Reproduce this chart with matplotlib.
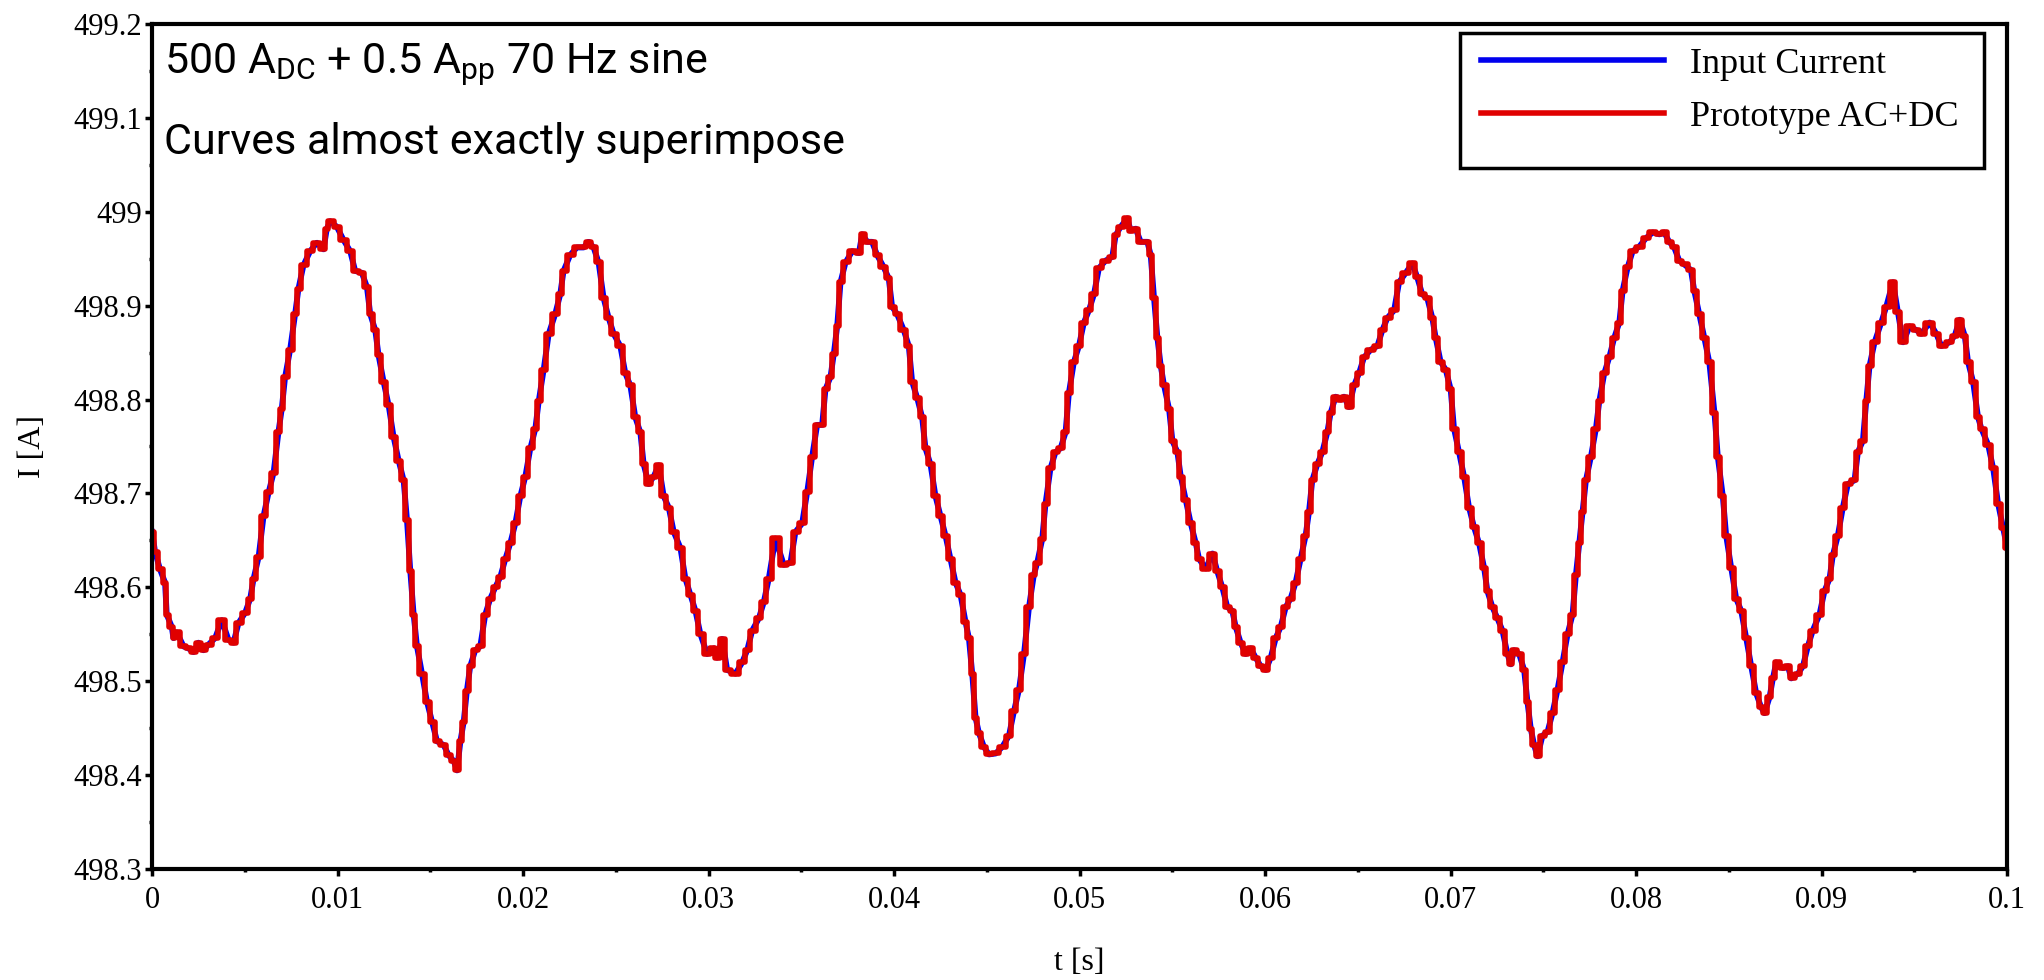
import matplotlib
matplotlib.use("Agg")
import matplotlib.pyplot as plt
from matplotlib.patches import Rectangle
from matplotlib.ticker import MultipleLocator, FuncFormatter

# time [s] and current [A]
t_s = [
    0.0, 0.00016, 0.00043, 0.0007, 0.00079, 0.00106, 0.00115, 0.00133, 0.0017, 0.00196,
    0.00223, 0.0025, 0.00277, 0.00304, 0.0034, 0.00376, 0.00412, 0.00439, 0.00466, 0.00502,
    0.00529, 0.00547, 0.00574, 0.00601, 0.00628, 0.00655, 0.00681, 0.00699, 0.00717, 0.00744,
    0.00771, 0.00789, 0.00816, 0.00852, 0.00888, 0.00924, 0.00942, 0.0096, 0.00996, 0.01032,
    0.01068, 0.01095, 0.01131, 0.01158, 0.01176, 0.01203, 0.01221, 0.01248, 0.01275, 0.01302,
    0.01329, 0.01356, 0.01374, 0.01392, 0.0141, 0.01428, 0.01455, 0.01482, 0.01509, 0.01536,
    0.01572, 0.01599, 0.01626, 0.01644, 0.01662, 0.0168, 0.01697, 0.01715, 0.01742, 0.01769,
    0.01796, 0.01823, 0.0185, 0.01877, 0.01904, 0.01931, 0.01958, 0.01985, 0.02012, 0.02039,
    0.02066, 0.02084, 0.02111, 0.02138, 0.02173, 0.022, 0.02218, 0.02254, 0.0229, 0.02326,
    0.02353, 0.0238, 0.02407, 0.02434, 0.02461, 0.02488, 0.02524, 0.02551, 0.02578, 0.02605,
    0.02632, 0.0265, 0.02677, 0.02704, 0.02731, 0.02758, 0.02785, 0.02812, 0.02848, 0.02875,
    0.02902, 0.02929, 0.02956, 0.02992, 0.03028, 0.03046, 0.03073, 0.031, 0.03145, 0.03181,
    0.03208, 0.03235, 0.03271, 0.03297, 0.03324, 0.0336, 0.03405, 0.03441, 0.03468, 0.03504,
    0.03531, 0.03558, 0.03585, 0.03612, 0.0363, 0.03657, 0.03675, 0.03693, 0.03711, 0.03738,
    0.03774, 0.0381, 0.03828, 0.03855, 0.03881, 0.03908, 0.03944, 0.03971, 0.03989, 0.04016,
    0.04052, 0.04079, 0.04097, 0.04124, 0.04151, 0.04169, 0.04196, 0.04223, 0.0425, 0.04277,
    0.04304, 0.04331, 0.04358, 0.04385, 0.04403, 0.04421, 0.04439, 0.04457, 0.04484, 0.04511,
    0.04547, 0.04583, 0.04619, 0.04646, 0.04673, 0.047, 0.04727, 0.04753, 0.04771, 0.04798,
    0.04816, 0.04843, 0.0487, 0.04897, 0.04924, 0.04942, 0.04969, 0.04996, 0.05023, 0.0505,
    0.05077, 0.05104, 0.0514, 0.05176, 0.05194, 0.05221, 0.05257, 0.05275, 0.05302, 0.05329,
    0.05365, 0.05383, 0.05401, 0.05419, 0.05437, 0.05455, 0.05482, 0.055, 0.05527, 0.05545,
    0.05572, 0.05599, 0.05626, 0.05644, 0.0568, 0.05716, 0.05742, 0.05769, 0.05796, 0.05823,
    0.05841, 0.05868, 0.05895, 0.05922, 0.05949, 0.05976, 0.06003, 0.0603, 0.06057, 0.06084,
    0.06111, 0.06137, 0.06164, 0.06191, 0.06218, 0.06236, 0.06254, 0.06281, 0.06308, 0.06335,
    0.06353, 0.0638, 0.06407, 0.06425, 0.06452, 0.06479, 0.06506, 0.06533, 0.06569, 0.06605,
    0.06632, 0.06659, 0.06695, 0.06722, 0.06758, 0.06794, 0.0682, 0.06847, 0.06874, 0.06901,
    0.06919, 0.06946, 0.06973, 0.07, 0.07018, 0.07045, 0.07072, 0.07099, 0.07126, 0.07153,
    0.0718, 0.07198, 0.07225, 0.07252, 0.07279, 0.07306, 0.07324, 0.07342, 0.07369, 0.07396,
    0.07414, 0.07432, 0.0745, 0.07468, 0.07495, 0.07522, 0.07549, 0.07576, 0.07603, 0.0763,
    0.07657, 0.07675, 0.07693, 0.07711, 0.07729, 0.07756, 0.07783, 0.07801, 0.07828, 0.07855,
    0.07882, 0.07909, 0.07927, 0.07954, 0.07981, 0.08017, 0.08053, 0.08089, 0.08125, 0.08151,
    0.08178, 0.08205, 0.08232, 0.08259, 0.08295, 0.08313, 0.0834, 0.08367, 0.08394, 0.08422,
    0.0844, 0.08467, 0.08485, 0.08512, 0.08539, 0.08566, 0.08593, 0.0862, 0.08647, 0.08674,
    0.08692, 0.08719, 0.08737, 0.08755, 0.08791, 0.08818, 0.08836, 0.08872, 0.08899, 0.08925,
    0.08952, 0.08988, 0.09015, 0.09042, 0.0906, 0.09087, 0.09114, 0.09141, 0.09177, 0.09195,
    0.09222, 0.0924, 0.09258, 0.09285, 0.09321, 0.09348, 0.09384, 0.09411, 0.09438, 0.09474,
    0.0951, 0.09537, 0.09582, 0.09618, 0.09645, 0.0969, 0.09717, 0.09744, 0.09771, 0.09789,
    0.09816, 0.09843, 0.09861, 0.09897, 0.09924, 0.09951, 0.09978, 0.1,
]

input_current = [
    498.659, 498.638, 498.619, 498.605, 498.571, 498.558, 498.546, 498.552, 498.537, 498.535,
    498.531, 498.541, 498.533, 498.539, 498.546, 498.565, 498.544, 498.541, 498.562, 498.573,
    498.588, 498.609, 498.632, 498.676, 498.701, 498.722, 498.765, 498.79, 498.824, 498.853,
    498.891, 498.918, 498.943, 498.958, 498.967, 498.96, 498.982, 498.99, 498.984, 498.97,
    498.958, 498.937, 498.935, 498.92, 498.891, 498.874, 498.847, 498.819, 498.794, 498.76,
    498.735, 498.714, 498.672, 498.617, 498.571, 498.537, 498.508, 498.478, 498.457, 498.436,
    498.432, 498.421, 498.415, 498.405, 498.436, 498.457, 498.49, 498.516, 498.533, 498.537,
    498.571, 498.588, 498.6, 498.611, 498.63, 498.647, 498.668, 498.697, 498.718, 498.748,
    498.769, 498.798, 498.832, 498.87, 498.891, 498.912, 498.937, 498.954, 498.962, 498.962,
    498.968, 498.962, 498.946, 498.908, 498.887, 498.87, 498.857, 498.828, 498.815, 498.781,
    498.765, 498.731, 498.71, 498.718, 498.73, 498.697, 498.685, 498.659, 498.642, 498.609,
    498.592, 498.575, 498.55, 498.529, 498.535, 498.525, 498.545, 498.512, 498.508, 498.52,
    498.533, 498.554, 498.567, 498.584, 498.609, 498.652, 498.624, 498.626, 498.659, 498.668,
    498.701, 498.739, 498.773, 498.773, 498.811, 498.824, 498.849, 498.878, 498.925, 498.946,
    498.958, 498.956, 498.976, 498.968, 498.968, 498.954, 498.941, 498.929, 498.899, 498.891,
    498.874, 498.857, 498.819, 498.802, 498.781, 498.748, 498.731, 498.697, 498.676, 498.655,
    498.63, 498.605, 498.592, 498.563, 498.546, 498.508, 498.461, 498.445, 498.43, 498.422,
    498.423, 498.43, 498.442, 498.468, 498.491, 498.529, 498.579, 498.613, 498.626, 498.651,
    498.689, 498.727, 498.744, 498.748, 498.765, 498.807, 498.84, 498.857, 498.882, 498.895,
    498.912, 498.94, 498.948, 498.952, 498.975, 498.984, 498.993, 498.98, 498.982, 498.968,
    498.968, 498.954, 498.908, 498.866, 498.836, 498.815, 498.79, 498.756, 498.744, 498.718,
    498.693, 498.668, 498.647, 498.63, 498.62, 498.636, 498.617, 498.6, 498.579, 498.575,
    498.558, 498.541, 498.529, 498.535, 498.525, 498.516, 498.512, 498.525, 498.546, 498.558,
    498.579, 498.588, 498.605, 498.63, 498.655, 498.68, 498.714, 498.731, 498.744, 498.765,
    498.786, 498.803, 498.8, 498.803, 498.792, 498.815, 498.828, 498.845, 498.853, 498.857,
    498.874, 498.887, 498.895, 498.925, 498.935, 498.945, 498.93, 498.912, 498.908, 498.887,
    498.866, 498.84, 498.832, 498.811, 498.769, 498.744, 498.718, 498.685, 498.664, 498.647,
    498.621, 498.596, 498.579, 498.567, 498.554, 498.529, 498.518, 498.533, 498.529, 498.512,
    498.478, 498.449, 498.432, 498.42, 498.442, 498.446, 498.466, 498.491, 498.52, 498.55,
    498.571, 498.613, 498.647, 498.68, 498.714, 498.739, 498.769, 498.798, 498.828, 498.845,
    498.866, 498.882, 498.916, 498.941, 498.958, 498.963, 498.972, 498.978, 498.976, 498.978,
    498.968, 498.962, 498.948, 498.944, 498.938, 498.916, 498.891, 498.866, 498.84, 498.786,
    498.739, 498.697, 498.655, 498.621, 498.588, 498.575, 498.546, 498.516, 498.487, 498.472,
    498.466, 498.483, 498.503, 498.52, 498.514, 498.516, 498.503, 498.508, 498.516, 498.537,
    498.554, 498.571, 498.596, 498.609, 498.634, 498.655, 498.685, 498.71, 498.714, 498.744,
    498.756, 498.798, 498.836, 498.861, 498.882, 498.899, 498.925, 498.893, 498.861, 498.878,
    498.874, 498.87, 498.882, 498.87, 498.857, 498.861, 498.868, 498.885, 498.868, 498.84,
    498.819, 498.781, 498.769, 498.752, 498.727, 498.689, 498.663, 498.642,
]

# the prototype reading lies on top of the input current
prototype_acdc = list(input_current)

plt.rcParams["font.family"] = ["Liberation Serif", "DejaVu Serif"]
plt.rcParams["mathtext.fontset"] = "custom"
plt.rcParams["mathtext.rm"] = "Roboto"

fig = plt.figure(figsize=(20.44, 9.8), dpi=100)
ax = fig.add_axes([0.0744, 0.1133, 0.9076, 0.8622])

ax.plot(t_s, input_current, color="#0000ee", lw=4.2, label="Input Current")
ax.plot(t_s, prototype_acdc, color="#e00000", lw=4.0, drawstyle="steps-mid",
        label="Prototype AC+DC")

ax.set_xlim(0, 0.1)
ax.set_ylim(498.3, 499.2)

ax.xaxis.set_major_locator(MultipleLocator(0.01))
ax.xaxis.set_minor_locator(MultipleLocator(0.005))
ax.yaxis.set_major_locator(MultipleLocator(0.1))
ax.yaxis.set_minor_locator(MultipleLocator(0.05))
ax.xaxis.set_major_formatter(FuncFormatter(lambda v, p: "%g" % round(v, 3)))
ax.yaxis.set_major_formatter(FuncFormatter(lambda v, p: "%g" % round(v, 1)))

ax.tick_params(which="major", direction="out", length=5, width=2.5, labelsize=22, pad=2)
ax.tick_params(axis="x", which="major", pad=7)
ax.tick_params(which="minor", direction="out", length=2.5, width=2.5)
ax.tick_params(top=False, right=False)
for s in ax.spines.values():
    s.set_linewidth(3)

ax.set_xlabel("t [s]", fontsize=23, labelpad=24)
ax.set_ylabel("I [A]", fontsize=23, labelpad=19)

ax.text(0.0065, 0.942, "500 A$_\\mathregular{DC}$ + 0.5 A$_\\mathregular{pp}$ 70 Hz sine",
        transform=ax.transAxes, family="Roboto", fontsize=31, va="baseline", ha="left")
ax.text(0.0065, 0.846, "Curves almost exactly superimpose",
        transform=ax.transAxes, family="Roboto", fontsize=31, va="baseline", ha="left")

# legend entries without frame, box drawn separately (more room below the rows)
leg = ax.legend(loc="upper right", bbox_to_anchor=(0.9876, 1.002), fontsize=26,
                frameon=False, handlelength=5.07, handletextpad=0.72,
                borderpad=0.7, labelspacing=0.55, borderaxespad=0.0)
for h in leg.get_lines():
    h.set_linewidth(4)
ax.add_patch(Rectangle((0.7051, 0.8296), 0.2825, 0.1602, transform=ax.transAxes,
                       fill=False, ec="black", lw=2.5, zorder=6))

fig.savefig("out.png", dpi=100)
